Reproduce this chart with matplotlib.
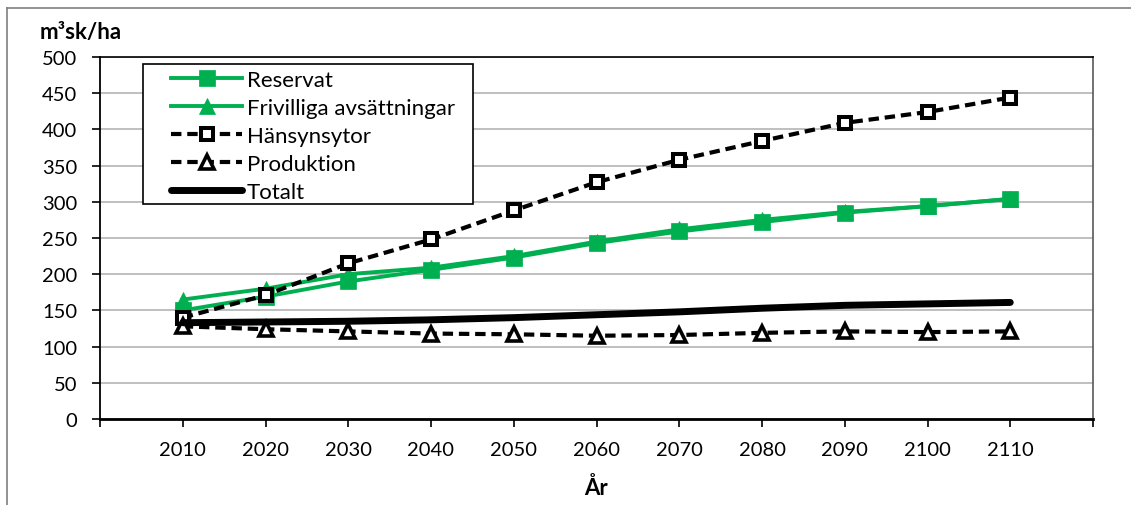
import matplotlib
matplotlib.use("Agg")
import matplotlib.pyplot as plt
from matplotlib.lines import Line2D
from matplotlib.patches import Rectangle

plt.rcParams['font.family'] = ['Lato', 'DejaVu Sans']

years = [2010, 2020, 2030, 2040, 2050, 2060, 2070, 2080, 2090, 2100, 2110]
reservat = [150, 169, 190, 206, 223, 243, 259, 272, 285, 294, 304]
frivilliga = [165, 180, 200, 209, 225, 245, 262, 275, 286, 294, 304]
hansyn = [140, 171, 215, 248, 288, 327, 358, 384, 409, 424, 444]
produktion = [128, 124, 121, 118, 117, 115, 116, 119, 121, 120, 121]
totalt = [133, 134, 135, 137, 140, 144, 148, 153, 157, 159, 161]

GREEN = '#00B050'
TICK_FS = 14.5
LEG_FS = 16
LABEL_FS = 16

W, H = 1131, 506
fig = plt.figure(figsize=(W / 100, H / 100), dpi=100)
ax = fig.add_axes([100 / W, 1 - 420 / H, 993 / W, 362 / H])

x = list(range(1, len(years) + 1))
dash = (0, (2.5, 1.4))

ax.plot(x, reservat, color=GREEN, lw=2.8, marker='s', ms=11,
        mfc=GREEN, mec=GREEN, mew=0.5, label='Reservat', zorder=3)
ax.plot(x, frivilliga, color=GREEN, lw=2.8, marker='^', ms=12,
        mfc=GREEN, mec=GREEN, mew=0.5, label='Frivilliga avsättningar', zorder=3)
ax.plot(x, hansyn, color='black', lw=3.0, ls=dash, marker='s', ms=8.5,
        mfc='white', mec='black', mew=2.9, label='Hänsynsytor', zorder=4,
        dash_capstyle='butt')
ax.plot(x, produktion, color='black', lw=3.0, ls=dash, marker='^', ms=9.5,
        mfc='white', mec='black', mew=2.6, label='Produktion', zorder=4,
        dash_capstyle='butt')
ax.plot(x, totalt, color='black', lw=5.0, label='Totalt', zorder=5,
        solid_capstyle='round')

ax.set_xlim(0, len(years) + 1)
ax.set_ylim(0, 500)
ax.set_yticks(range(0, 501, 50))
ax.set_xticks(range(0, len(years) + 2))
ax.set_xticklabels([''] + [str(y) for y in years] + [''])
ax.tick_params(axis='x', direction='out', length=6, width=1.2, pad=10,
               labelsize=TICK_FS, color='black')
ax.tick_params(axis='y', direction='out', length=5.5, width=1.2, pad=11,
               labelsize=TICK_FS, color='black')

ax.grid(axis='y', color='#B4B4B4', lw=1.2)
ax.set_axisbelow(True)

ax.spines['left'].set_color('black')
ax.spines['left'].set_linewidth(1.3)
ax.spines['bottom'].set_color('black')
ax.spines['bottom'].set_linewidth(2.0)
ax.spines['top'].set_color('black')
ax.spines['top'].set_linewidth(1.2)
ax.spines['right'].set_color('#595959')
ax.spines['right'].set_linewidth(1.2)

ax.set_xlabel('År', fontsize=LABEL_FS, fontweight='bold', labelpad=13)
fig.text(40 / W, 1 - 33 / H, 'm³sk/ha', fontsize=LABEL_FS, fontweight='bold',
         ha='left', va='center')

# legend entries without their own frame; the box is drawn separately
leg = fig.legend(loc='upper left', bbox_to_anchor=(171 / W, 1 - 71 / H),
                 fontsize=LEG_FS, frameon=False, handlelength=3.2,
                 handletextpad=0.22, borderpad=0, labelspacing=0.36,
                 borderaxespad=0)
fig.add_artist(Rectangle((143 / W, 1 - 205 / H), 330 / W, 140 / H,
                         transform=fig.transFigure, facecolor='white',
                         edgecolor='black', lw=1.2, zorder=6))
leg.set_zorder(7)

# chart frame
fig.add_artist(Line2D([7 / W, 1], [1 - 9 / H, 1 - 9 / H],
                      transform=fig.transFigure, color='#7F7F7F', lw=1.2))
fig.add_artist(Line2D([7 / W, 7 / W], [0, 1 - 9 / H],
                      transform=fig.transFigure, color='#7F7F7F', lw=1.2))

fig.savefig('out.png', dpi=100)
